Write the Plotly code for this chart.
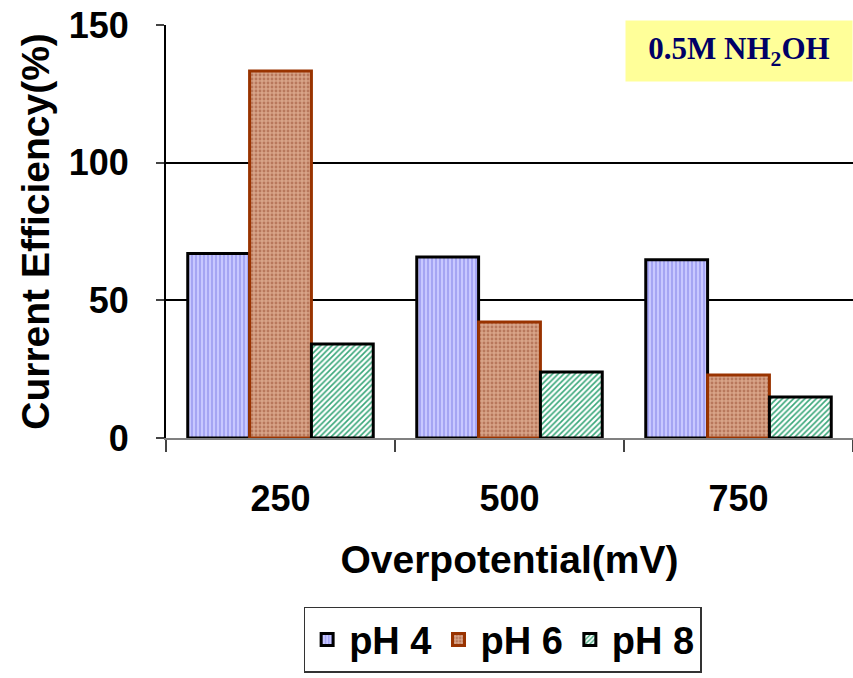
import plotly.graph_objects as go

categories = ["250", "500", "750"]
ph4 = [67, 65.7, 64.7]
ph6 = [133.3, 42.1, 22.9]
ph8 = [34.1, 24.0, 14.9]
series_names = ["pH 4", "pH 6", "pH 8"]
y_ticks = [0, 50, 100, 150]

styles = [
    dict(bg="#C8C8FF", fg="#9C9CF0", shape="|", line="#000000"),
    dict(bg="#D8A488", fg="#B8785C", shape=".", line="#993300"),
    dict(bg="#FFFFFF", fg="#3AA77A", shape="/", line="#000000"),
]

fig = go.Figure()
for name, vals, st in zip(series_names, [ph4, ph6, ph8], styles):
    fig.add_trace(go.Bar(
        x=categories, y=vals, name=name,
        marker=dict(
            color=st["bg"],
            line=dict(color=st["line"], width=3),
            pattern=dict(shape=st["shape"], fgcolor=st["fg"], bgcolor=st["bg"],
                         size=4, solidity=0.4, fillmode="replace"),
        ),
    ))

FAM = "Liberation Sans, Arial"
tick_font = dict(family=FAM, size=36, color="black", weight="bold")
title_font = dict(family=FAM, size=39, color="black", weight="bold")

fig.update_layout(
    width=853, height=678,
    margin=dict(l=166, r=0, t=25, b=240),
    paper_bgcolor="white", plot_bgcolor="white",
    barmode="group", bargap=0.19, bargroupgap=0,
    showlegend=True,
    legend=dict(
        orientation="h", x=0.49, xanchor="center", y=-0.409, yanchor="top",
        bordercolor="#333333", borderwidth=1.5,
        font=dict(family=FAM, size=38, color="black", weight="bold"),
        itemwidth=34, tracegroupgap=0,
    ),
    xaxis=dict(
        type="category", tickson="boundaries", ticks="outside", ticklen=12,
        tickcolor="#444444", tickwidth=2,
        showline=True, linecolor="#808080", linewidth=2,
        tickfont=tick_font, ticklabelstandoff=28,
        title=dict(text="Overpotential(mV)", standoff=27, font=title_font),
        showgrid=False,
    ),
    yaxis=dict(
        range=[0, 150], tickvals=y_ticks, ticks="outside", ticklen=8,
        tickcolor="#444444", tickwidth=2,
        showline=True, linecolor="#000000", linewidth=2,
        showgrid=True, gridcolor="#000000", gridwidth=1.5,
        zeroline=False,
        tickfont=tick_font, ticklabelstandoff=20,
        title=dict(text="Current Efficiency(%)", standoff=7, font=title_font),
    ),
    annotations=[dict(
        text="0.5M NH<sub>2</sub>OH", xref="paper", yref="paper",
        x=1, y=1, xanchor="right", yanchor="top", showarrow=False, yshift=5,
        bgcolor="#FFFF99", borderpad=10, width=206, height=40,
        font=dict(family="Liberation Serif, Times New Roman", size=31, color="#000066", weight="bold"),
    )],
)

fig.write_html("out.html")
